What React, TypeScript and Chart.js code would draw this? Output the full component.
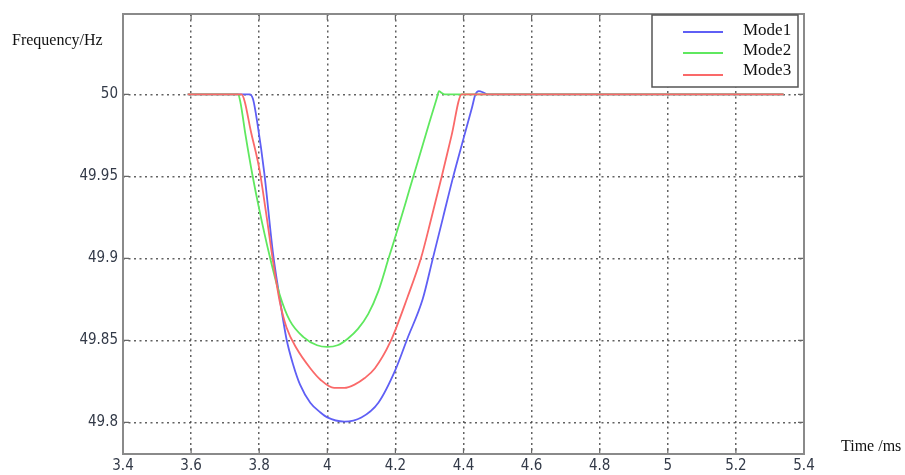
import React, { useEffect, useRef } from "react";
import { Chart, registerables } from "chart.js";

Chart.register(...registerables);

// ---- data ----
const MODE1_T = [3.59, 3.772, 3.782, 3.795, 3.815, 3.84, 3.86, 3.88, 3.9, 3.92, 3.95, 3.98, 4.0, 4.05, 4.1, 4.15, 4.2, 4.235, 4.28, 4.31, 4.34, 4.37, 4.4, 4.425, 4.435, 4.445, 4.46, 4.47, 5.34];
const MODE1_F = [50, 50, 49.997, 49.982, 49.952, 49.904, 49.876, 49.851, 49.835, 49.823, 49.812, 49.806, 49.803, 49.8005, 49.803, 49.812, 49.832, 49.851, 49.875, 49.9, 49.925, 49.95, 49.973, 49.992, 50.0, 50.002, 50.001, 50, 50];

const MODE2_T = [3.59, 3.738, 3.745, 3.76, 3.78, 3.8, 3.83, 3.86, 3.89, 3.93, 3.97, 4.0, 4.03, 4.06, 4.09, 4.12, 4.15, 4.18, 4.21, 4.24, 4.27, 4.30, 4.322, 4.328, 4.335, 4.345, 5.34];
const MODE2_F = [50, 50, 49.995, 49.975, 49.951, 49.93, 49.902, 49.878, 49.862, 49.852, 49.847, 49.846, 49.847, 49.851, 49.857, 49.866, 49.88, 49.9, 49.92, 49.941, 49.962, 49.983, 49.998, 50.002, 50.001, 50, 50];

const MODE3_T = [3.59, 3.748, 3.757, 3.775, 3.8, 3.82, 3.84, 3.86, 3.88, 3.91, 3.95, 3.98, 4.02, 4.05, 4.08, 4.11, 4.14, 4.185, 4.235, 4.275, 4.305, 4.335, 4.365, 4.395, 5.34];
const MODE3_F = [50, 50, 49.996, 49.978, 49.955, 49.928, 49.899, 49.874, 49.858, 49.845, 49.833, 49.826, 49.821, 49.821, 49.823, 49.827, 49.833, 49.849, 49.876, 49.9, 49.924, 49.949, 49.975, 50, 50];

const SERIES_NAMES = ["Mode1", "Mode2", "Mode3"];
const SERIES_COLORS = ["rgb(95,95,245)", "rgb(95,232,95)", "rgb(250,105,105)"];

const X_TICKS = [3.4, 3.6, 3.8, 4.0, 4.2, 4.4, 4.6, 4.8, 5.0, 5.2, 5.4];
const X_TICK_LABELS = ["3.4", "3.6", "3.8", "4", "4.2", "4.4", "4.6", "4.8", "5", "5.2", "5.4"];
const Y_TICKS = [49.8, 49.85, 49.9, 49.95, 50];
const Y_TICK_LABELS = ["49.8", "49.85", "49.9", "49.95", "50"];

const X_MIN = 3.4;
const X_MAX = 5.4;
const Y_MIN = 49.7807;
const Y_MAX = 50.049;

const Y_TITLE = "Frequency/Hz";
const X_TITLE = "Time /ms";

function pts(t: number[], f: number[]) {
  return t.map((x, i) => ({ x, y: f[i] }));
}

const TICK_FONT = "'DejaVu Sans Condensed', 'Liberation Sans Narrow', 'Liberation Sans', sans-serif";
const SERIF = "'Liberation Serif', 'Times New Roman', serif";

const decorPlugin = {
  id: "decor",
  afterDraw(chart: any) {
    const { ctx, chartArea } = chart;
    const { left, right, top, bottom } = chartArea;
    const xs = chart.scales.x;
    const ys = chart.scales.y;
    ctx.save();
    // inward tick marks
    ctx.strokeStyle = "#666";
    ctx.lineWidth = 1.2;
    ctx.setLineDash([]);
    ctx.beginPath();
    X_TICKS.forEach((v) => {
      const px = xs.getPixelForValue(v);
      ctx.moveTo(px, bottom);
      ctx.lineTo(px, bottom - 6);
      ctx.moveTo(px, top);
      ctx.lineTo(px, top + 6);
    });
    Y_TICKS.forEach((v) => {
      const py = ys.getPixelForValue(v);
      ctx.moveTo(left, py);
      ctx.lineTo(left + 6, py);
      ctx.moveTo(right, py);
      ctx.lineTo(right - 6, py);
    });
    ctx.stroke();
    // frame
    ctx.strokeStyle = "#8a8a8a";
    ctx.lineWidth = 2;
    ctx.strokeRect(left, top, right - left, bottom - top);

    // legend box
    const bx = 652, by = 15, bw = 146, bh = 72;
    ctx.fillStyle = "#fff";
    ctx.fillRect(bx, by, bw, bh);
    ctx.strokeStyle = "#555";
    ctx.lineWidth = 1.5;
    ctx.strokeRect(bx, by, bw, bh);
    const lineY = [32, 53, 75];
    const textY = [31, 51, 71];
    ctx.font = `17px ${SERIF}`;
    ctx.textAlign = "left";
    ctx.textBaseline = "middle";
    SERIES_NAMES.forEach((name, i) => {
      ctx.strokeStyle = SERIES_COLORS[i];
      ctx.lineWidth = 2;
      ctx.beginPath();
      ctx.moveTo(683, lineY[i]);
      ctx.lineTo(723, lineY[i]);
      ctx.stroke();
      ctx.fillStyle = "#111";
      ctx.fillText(name, 743, textY[i]);
    });

    // axis titles
    ctx.font = `16px ${SERIF}`;
    ctx.fillStyle = "#111";
    ctx.textAlign = "left";
    ctx.fillText(Y_TITLE, 12, 41);
    ctx.fillText(X_TITLE, 841, 447);
    ctx.restore();
  },
};

export default function App() {
  const ref = useRef<HTMLCanvasElement | null>(null);
  useEffect(() => {
    if (!ref.current) return;
    const datasets = [
      { label: SERIES_NAMES[0], data: pts(MODE1_T, MODE1_F), order: 2 },
      { label: SERIES_NAMES[1], data: pts(MODE2_T, MODE2_F), order: 1 },
      { label: SERIES_NAMES[2], data: pts(MODE3_T, MODE3_F), order: 0 },
    ].map((d, i) => ({
      ...d,
      borderColor: SERIES_COLORS[i],
      backgroundColor: SERIES_COLORS[i],
      borderWidth: 1.8,
      pointRadius: 0,
      fill: false,
      cubicInterpolationMode: "monotone" as const,
    }));
    const gridColor = (ctx: any) => {
      const v = ctx.tick ? ctx.tick.value : null;
      if (v === null) return "transparent";
      if (Math.abs(v - X_MIN) < 1e-9 || Math.abs(v - X_MAX) < 1e-9) return "transparent";
      return "rgba(70,70,70,0.85)";
    };
    const chart = new Chart(ref.current, {
      type: "line",
      data: { datasets },
      plugins: [decorPlugin],
      options: {
        animation: false,
        responsive: false,
        maintainAspectRatio: false,
        layout: { padding: { top: 12, right: 101, left: 0, bottom: 0 } },
        plugins: { legend: { display: false }, tooltip: { enabled: false } },
        scales: {
          x: {
            type: "linear",
            min: X_MIN,
            max: X_MAX,
            z: 1,
            afterBuildTicks: (scale: any) => {
              scale.ticks = X_TICKS.map((v) => ({ value: v }));
            },
            afterFit: (scale: any) => {
              scale.height = 21;
            },
            ticks: {
              autoSkip: false,
              maxRotation: 0,
              padding: 3,
              color: "#333a48",
              font: { family: TICK_FONT, size: 15 },
              callback: (_v: any, i: number) => X_TICK_LABELS[i],
            },
            grid: { color: gridColor, lineWidth: 1.5, drawTicks: false },
            border: { display: false, dash: [2, 3.5] },
          },
          y: {
            type: "linear",
            min: Y_MIN,
            max: Y_MAX,
            z: 1,
            afterBuildTicks: (scale: any) => {
              scale.ticks = Y_TICKS.map((v) => ({ value: v }));
            },
            afterFit: (scale: any) => {
              scale.width = 123;
            },
            ticks: {
              autoSkip: false,
              padding: 5,
              color: "#333a48",
              font: { family: TICK_FONT, size: 15 },
              callback: (_v: any, i: number) => Y_TICK_LABELS[i],
            },
            grid: { color: "rgba(70,70,70,0.85)", lineWidth: 1.5, drawTicks: false },
            border: { display: false, dash: [2, 3.5] },
          },
        },
      },
    } as any);
    return () => chart.destroy();
  }, []);
  return (
    <div style={{ position: "fixed", left: 0, top: 0, width: 905, height: 475, background: "#fff" }}>
      <canvas ref={ref} width={905} height={475} style={{ display: "block", width: 905, height: 475 }} />
    </div>
  );
}
